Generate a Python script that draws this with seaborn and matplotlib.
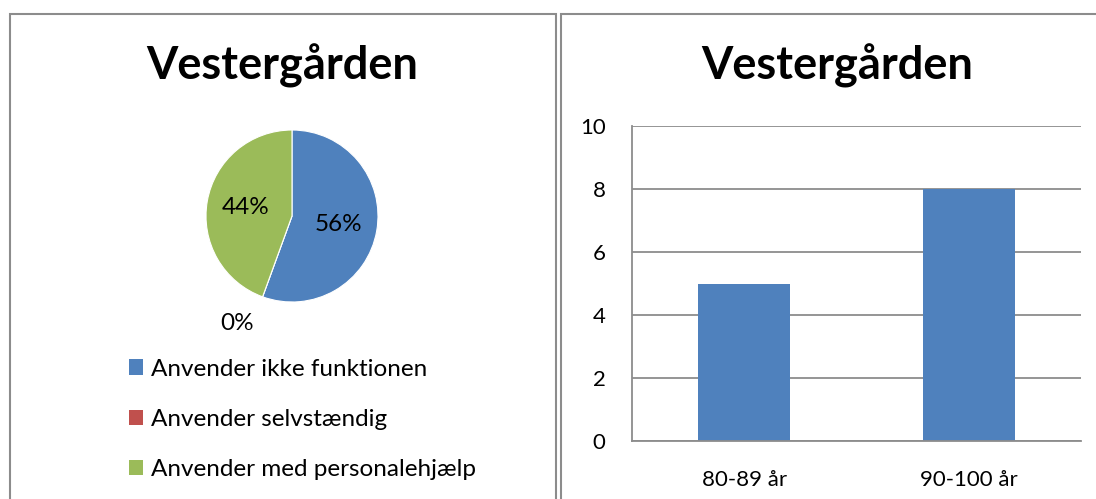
import matplotlib
matplotlib.use("Agg")
import matplotlib.pyplot as plt
import matplotlib.patches as mpatches
import numpy as np
import pandas as pd
import seaborn as sns

sns.set_theme(style="white")
plt.rcParams['font.family'] = ['Lato', 'DejaVu Sans']
plt.rcParams['text.color'] = 'black'

# data
title = "Vestergården"
pie_labels = ["Anvender ikke funktionen", "Anvender selvstændig", "Anvender med personalehjælp"]
pie_values = [5, 0, 4]
pie_colors = ["#4F81BD", "#C0504D", "#9BBB59"]

age_groups = ["80-89 år", "90-100 år"]
age_counts = [5, 8]

fig = plt.figure(figsize=(10.96, 4.99), dpi=100)

# panel borders (like two framed Excel charts)
border = "#8c8c8c"
fig.patches.append(mpatches.Rectangle((10 / 1096, -0.1), (556 - 10) / 1096, 1.1 - 14 / 499,
                                      transform=fig.transFigure, fill=False,
                                      edgecolor=border, linewidth=1.5))
fig.patches.append(mpatches.Rectangle((561 / 1096, -0.1), 0.6, 1.1 - 14 / 499,
                                      transform=fig.transFigure, fill=False,
                                      edgecolor=border, linewidth=1.5))

# titles
fig.text(282 / 1096, 1 - 66 / 499, title, ha="center", va="center",
         fontsize=32.5, fontweight="bold", color="black")
fig.text(837 / 1096, 1 - 66 / 499, title, ha="center", va="center",
         fontsize=32.5, fontweight="bold", color="black")

# ---------- pie ----------
ax_pie = fig.add_axes([206 / 1096, 1 - 302 / 499, 172 / 1096, 172 / 499])
total = sum(pie_values)
wedges, _ = ax_pie.pie(pie_values, colors=pie_colors, startangle=90,
                       counterclock=False, radius=1,
                       wedgeprops=dict(linewidth=0.8, edgecolor="white"))
for w, v in zip(wedges, pie_values):
    ang = np.deg2rad((w.theta1 + w.theta2) / 2)
    r = 0.55 if v > 0 else 1.33
    dx = -0.18 if v == 0 else 0
    ax_pie.text(r * np.cos(ang) + dx, r * np.sin(ang), f"{round(100 * v / total)}%",
                ha="center", va="center", fontsize=17.5, color="black")
ax_pie.set_xlim(-1, 1)
ax_pie.set_ylim(-1, 1)
ax_pie.set_aspect("equal")
ax_pie.axis("off")

handles = [mpatches.Patch(facecolor=c, edgecolor="none") for c in pie_colors]
fig.legend(handles, pie_labels, loc="upper left",
           bbox_to_anchor=(119 / 1096, 1 - 349 / 499), frameon=False,
           fontsize=17.5, handlelength=0.6, handleheight=0.6,
           handletextpad=0.3, labelspacing=1.2, borderaxespad=0,
           labelcolor="black")

# ---------- bar ----------
ax_bar = fig.add_axes([632 / 1096, 1 - 441 / 499, 449 / 1096, 315 / 499])
df = pd.DataFrame({"Alder": age_groups, "Antal": age_counts})
sns.barplot(data=df, x="Alder", y="Antal", color="#4F81BD", saturation=1,
            width=0.41, linewidth=0, ax=ax_bar)
ax_bar.set_ylim(0, 10)
ax_bar.set_yticks(range(0, 11, 2))
ax_bar.yaxis.grid(True, color="#8c8c8c", linewidth=1.3)
ax_bar.set_axisbelow(True)
ax_bar.set_xlabel("")
ax_bar.set_ylabel("")
for s in ["top", "right"]:
    ax_bar.spines[s].set_visible(False)
for s in ["left", "bottom"]:
    ax_bar.spines[s].set_color("#8c8c8c")
    ax_bar.spines[s].set_linewidth(1.3)
ax_bar.tick_params(axis="both", length=0, labelsize=16, colors="black")
ax_bar.tick_params(axis="y", pad=19)
ax_bar.tick_params(axis="x", pad=21)

fig.savefig("out.png", dpi=100)
